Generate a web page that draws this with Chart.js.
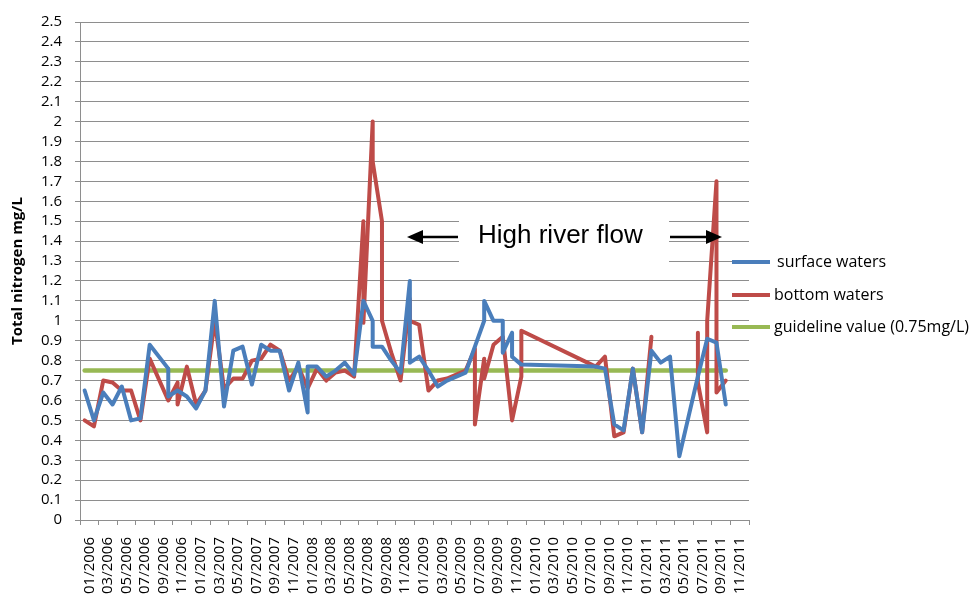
<!DOCTYPE html>
<html><head><meta charset="utf-8">
<script src="https://cdn.jsdelivr.net/npm/chart.js@4.4.1/dist/chart.umd.min.js"></script>
<style>html,body{margin:0;padding:0;background:#fff;}#wrap{width:969px;height:605px;}</style>
</head><body><div id="wrap"><canvas id="c" width="969" height="605"></canvas></div>
<script>
const tickLabels = ['01/2006','03/2006','05/2006','07/2006','09/2006','11/2006',
  '01/2007','03/2007','05/2007','07/2007','09/2007','11/2007',
  '01/2008','03/2008','05/2008','07/2008','09/2008','11/2008',
  '01/2009','03/2009','05/2009','07/2009','09/2009','11/2009',
  '01/2010','03/2010','05/2010','07/2010','09/2010','11/2010',
  '01/2011','03/2011','05/2011','07/2011','09/2011','11/2011'];
const yTickValues = [0,0.1,0.2,0.3,0.4,0.5,0.6,0.7,0.8,0.9,1,1.1,1.2,1.3,1.4,1.5,1.6,1.7,1.8,1.9,2,2.1,2.2,2.3,2.4,2.5];

const surfaceMonths = ['2006-01','2006-02','2006-03','2006-04','2006-05','2006-06','2006-07','2006-08','2006-10','2006-10','2006-11','2006-12',
  '2007-01','2007-02','2007-03','2007-04','2007-05','2007-06','2007-07','2007-08','2007-09','2007-10','2007-11','2007-12',
  '2008-01','2008-01','2008-02','2008-03','2008-04','2008-05','2008-06','2008-07','2008-08','2008-08','2008-09','2008-10','2008-11','2008-12','2008-12',
  '2009-01','2009-02','2009-03','2009-04','2009-05','2009-06','2009-07','2009-08','2009-08','2009-09','2009-10','2009-10','2009-11','2009-11','2009-12',
  '2010-08','2010-09','2010-10','2010-11','2010-12',
  '2011-01','2011-02','2011-03','2011-04','2011-05','2011-06','2011-07','2011-08','2011-09','2011-10'];
const surfaceValues = [0.65,0.50,0.64,0.58,0.67,0.50,0.51,0.88,0.76,0.62,0.65,0.62,
  0.56,0.65,1.10,0.57,0.85,0.87,0.68,0.88,0.85,0.85,0.65,0.79,
  0.54,0.77,0.77,0.72,0.75,0.79,0.73,1.10,1.00,0.87,0.87,0.80,0.74,1.20,0.79,
  0.82,0.75,0.67,0.70,0.72,0.74,0.87,1.00,1.10,1.00,1.00,0.84,0.94,0.82,0.78,
  0.77,0.76,0.48,0.45,0.76,
  0.44,0.85,0.79,0.82,0.32,0.52,0.72,0.91,0.89,0.58];

const bottomMonths = ['2006-01','2006-02','2006-03','2006-04','2006-05','2006-06','2006-07','2006-08','2006-10','2006-11','2006-11','2006-12',
  '2007-01','2007-02','2007-03','2007-04','2007-05','2007-06','2007-07','2007-08','2007-09','2007-10','2007-11','2007-12',
  '2008-01','2008-02','2008-03','2008-04','2008-05','2008-06','2008-07','2008-07','2008-08','2008-08','2008-09','2008-09','2008-10','2008-11','2008-12','2008-12',
  '2009-01','2009-02','2009-03','2009-04','2009-05','2009-06','2009-07','2009-07','2009-08','2009-08','2009-09','2009-10','2009-11','2009-12','2009-12',
  '2010-08','2010-09','2010-10','2010-11','2010-12',
  '2011-01','2011-02','2011-03','2011-07','2011-07','2011-08','2011-08','2011-09','2011-09','2011-10'];
const bottomValues = [0.50,0.47,0.70,0.69,0.65,0.65,0.50,0.81,0.60,0.69,0.58,0.77,
  0.58,0.65,1.00,0.66,0.71,0.71,0.80,0.81,0.88,0.85,0.70,0.77,
  0.66,0.76,0.70,0.74,0.75,0.72,1.50,0.99,2.00,1.80,1.50,1.00,0.84,0.70,1.11,1.00,
  0.98,0.65,0.70,0.71,0.73,0.75,0.86,0.48,0.81,0.71,0.88,0.92,0.50,0.72,0.95,
  0.77,0.82,0.42,0.44,0.76,
  0.44,0.92,null,0.94,0.69,0.44,1.00,1.70,0.64,0.70];

const guidelineMonths = ['2006-01','2011-10'];
const guidelineValues = [0.75,0.75];

const seriesNames = ['surface waters','bottom waters','guideline value (0.75mg/L)'];
const seriesColors = ['#4A7EBB','#BE4B48','#98B954'];
const yTitle = 'Total nitrogen mg/L';
const noteText = 'High river flow';

function monthPos(s){const p=s.split('-').map(Number);return (p[0]-2006)*12+(p[1]-1)+0.5;}
function pts(ms,vs){return ms.map((m,i)=>({x:monthPos(m),y:vs[i]}));}

const FONT = "'Open Sans', sans-serif";
const gridColor = '#8e8e8e';

const notePlugin = {
  id:'note',
  beforeDatasetsDraw(chart){
    const c=chart.ctx; c.save(); c.fillStyle='#fff'; c.fillRect(459,204,210,62); c.restore();
  },
  afterDatasetsDraw(chart){
    const c=chart.ctx; c.save();
    c.fillStyle='#000'; c.font="26px 'Liberation Sans', Arial, sans-serif"; c.textBaseline='alphabetic'; c.textAlign='left';
    c.fillText(noteText,478,243);
    c.strokeStyle='#000'; c.lineWidth=2.7;
    c.beginPath(); c.moveTo(458,237); c.lineTo(420,237); c.stroke();
    c.beginPath(); c.moveTo(407,237); c.lineTo(423,230); c.lineTo(423,244); c.closePath(); c.fill();
    c.beginPath(); c.moveTo(670,237); c.lineTo(708,237); c.stroke();
    c.beginPath(); c.moveTo(722,237); c.lineTo(706,230); c.lineTo(706,244); c.closePath(); c.fill();
    c.restore();
  },
  afterDraw(chart){
    const c=chart.ctx; c.save();
    const ys=[262,295,327];
    chart.data.datasets.forEach((ds,i)=>{
      c.strokeStyle=ds.borderColor; c.lineWidth=4; c.lineCap='butt';
      c.beginPath(); c.moveTo(732,ys[i]); c.lineTo(770,ys[i]); c.stroke();
      c.fillStyle='#000'; c.font="16px "+FONT; c.textBaseline='middle'; c.textAlign='left';
      c.fillText(ds.label, i===0?777:774, ys[i]);
    });
    c.restore();
  }
};

new Chart(document.getElementById('c'),{
  type:'line',
  data:{datasets:[
    {label:seriesNames[0],data:pts(surfaceMonths,surfaceValues),borderColor:seriesColors[0],borderWidth:4},
    {label:seriesNames[1],data:pts(bottomMonths,bottomValues),borderColor:seriesColors[1],borderWidth:4},
    {label:seriesNames[2],data:pts(guidelineMonths,guidelineValues),borderColor:seriesColors[2],borderWidth:4.5}
  ]},
  options:{
    responsive:false, animation:false, devicePixelRatio:1,
    layout:{padding:{top:14,right:220,left:0,bottom:0}},
    elements:{point:{radius:0,hoverRadius:0},line:{tension:0,borderJoinStyle:'round',borderCapStyle:'round',fill:false}},
    spanGaps:false,
    plugins:{legend:{display:false},tooltip:{enabled:false}},
    scales:{
      x:{type:'linear',min:0,max:72,
        afterBuildTicks(s){s.ticks=tickLabels.map((_,i)=>({value:2*i+1}));},
        afterFit(s){s.height=85;},
        ticks:{autoSkip:false,maxRotation:90,minRotation:90,padding:12,color:'#000',font:{family:FONT,size:15},
          callback:(v,i)=>tickLabels[i]},
        grid:{offset:true,drawOnChartArea:false,drawTicks:true,tickLength:5,color:gridColor},
        border:{color:gridColor}
      },
      y:{min:0,max:2.5,
        afterBuildTicks(s){s.ticks=yTickValues.map(v=>({value:v}));},
        afterFit(s){s.width=80;},
        ticks:{autoSkip:false,padding:13,color:'#000',font:{family:FONT,size:15},
          callback:(v)=>String(Number(v.toFixed(1)))},
        grid:{color:gridColor,tickLength:5,drawTicks:true},
        border:{color:gridColor},
        title:{display:true,text:yTitle,color:'#000',font:{family:FONT,size:15,weight:'bold'},padding:{top:9,bottom:0}}
      }
    }
  },
  plugins:[notePlugin]
});
</script></body></html>
